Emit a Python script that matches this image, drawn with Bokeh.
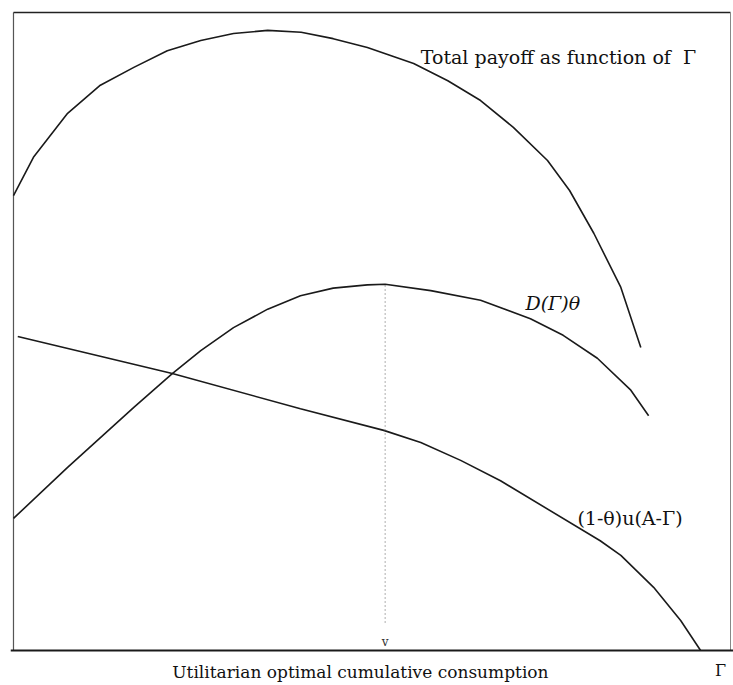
from bokeh.plotting import figure
from bokeh.models import Range1d, Label, Span
from bokeh.embed import file_html
from bokeh.resources import INLINE

# Schematic data (Gamma on x, payoff on y, arbitrary units)
gamma_total = [0, 2.8, 7.6, 12.2, 16.9, 21.6, 26.3, 30.9, 35.7, 40.4, 44.9, 49.7,
               56.2, 61.0, 65.6, 70.2, 75.0, 78.1, 81.5, 85.3, 88.1]
payoff_total = [71.3, 77.3, 84.2, 88.6, 91.4, 94.0, 95.6, 96.7, 97.2, 96.9, 95.9, 94.5,
                92.0, 89.3, 86.2, 82.0, 76.8, 72.1, 65.4, 56.9, 47.5]

gamma_d = [0, 7.6, 16.9, 22.3, 26.3, 30.9, 35.7, 40.3, 44.9, 49.7, 52.2, 58.6,
           65.6, 72.6, 77.2, 82.0, 86.7, 89.2]
payoff_d = [20.7, 28.7, 38.1, 43.4, 47.0, 50.6, 53.5, 55.6, 56.8, 57.3, 57.4, 56.4,
            54.9, 52.0, 49.4, 45.8, 40.8, 36.8]

gamma_u = [0.6, 22.3, 40.3, 52.0, 57.2, 62.8, 68.4, 82.4, 85.3, 89.9, 93.7, 96.5]
payoff_u = [49.2, 43.4, 37.9, 34.5, 32.6, 29.8, 26.6, 17.2, 14.9, 9.9, 4.7, 0.0]

gamma_opt = 52.2
opt_line_y = [4.4, 57.4]

# extent of the drawn box (axes frame)
box_x = [0, 0, 100.7, 100.7]
box_y = [0, 100, 100, 0]

label_total = "Total payoff as function of\u00a0 \u0393"
label_d = "D(\u0393)\u03b8"
label_u = "(1-\u03b8)u(A-\u0393)"
label_x = "Utilitarian optimal cumulative consumption"
label_gamma = "\u0393"

p = figure(width=733, height=685, output_backend="svg", toolbar_location=None,
           x_axis_type=None, y_axis_type=None,
           x_range=Range1d(-0.42, 101.12), y_range=Range1d(-5.49, 100.47),
           min_border_left=10, min_border_right=0, min_border_top=9, min_border_bottom=0)
p.grid.visible = False
p.outline_line_color = None
p.background_fill_color = "white"
p.border_fill_color = "white"

# frame: left, top and right sides, and the Gamma axis along the bottom
p.line(box_x[:2], box_y[:2], line_color="#555555", line_width=1.2)
p.line(box_x[1:3], box_y[1:3], line_color="#222222", line_width=1.6)
p.line(box_x[2:], box_y[2:], line_color="#888888", line_width=1.0)
p.add_layout(Span(location=0, dimension="width", line_color="#1a1a1a", line_width=1.8))

lc = "#1a1a1a"
p.line(gamma_total, payoff_total, line_color=lc, line_width=1.6)
p.line(gamma_d, payoff_d, line_color=lc, line_width=1.6)
p.line(gamma_u, payoff_u, line_color=lc, line_width=1.6)
p.line([gamma_opt, gamma_opt], opt_line_y, line_color="#777777", line_width=1.2,
       line_dash="1 3")

font = "DejaVu Serif"
p.add_layout(Label(x=57.2, y=93.1, text=label_total, text_font=font,
                   text_font_size="19px", text_color="#111111",
                   text_baseline="alphabetic"))
p.add_layout(Label(x=71.9, y=54.5, text=label_d, text_font=font,
                   text_font_size="19px", text_font_style="italic",
                   text_color="#111111", text_baseline="alphabetic"))
p.add_layout(Label(x=79.2, y=20.8, text=label_u, text_font=font,
                   text_font_size="19px", text_color="#111111",
                   text_baseline="alphabetic"))
p.add_layout(Label(x=gamma_opt, y=0.2, text="v", text_font=font,
                   text_font_size="12px", text_color="#333333",
                   text_align="center", text_baseline="bottom"))
p.add_layout(Label(x=22.3, y=-3.3, text=label_x, text_font=font,
                   text_font_size="17px", text_color="#111111",
                   text_baseline="middle"))
p.add_layout(Label(x=99.3, y=-3.1, text=label_gamma, text_font=font,
                   text_font_size="16px", text_color="#111111",
                   text_align="center", text_baseline="middle"))

open("out.html", "w").write(file_html(p, INLINE))
